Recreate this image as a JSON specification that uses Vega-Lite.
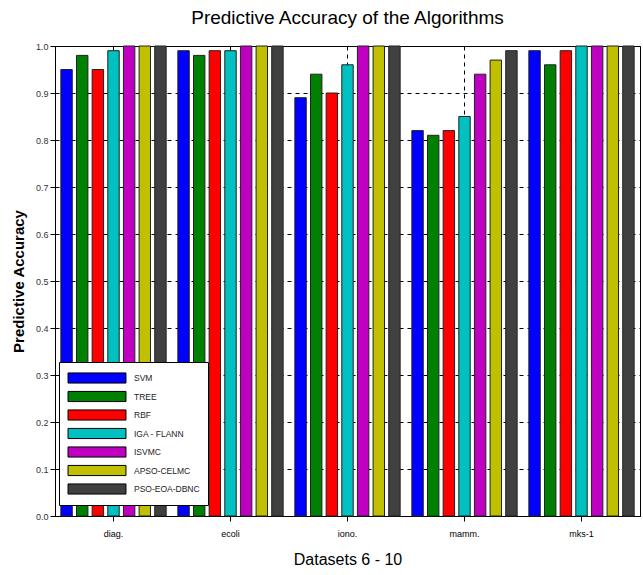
{
  "$schema": "https://vega.github.io/schema/vega-lite/v6.json",
  "width": 585,
  "height": 470,
  "autosize": {"type": "none"},
  "padding": {"left": 55, "top": 46, "right": 3, "bottom": 59},
  "background": "white",
  "title": {
    "text": "Predictive Accuracy of the Algorithms",
    "font": "Liberation Sans",
    "fontSize": 19,
    "fontWeight": "normal",
    "color": "black",
    "offset": 14,
    "anchor": "middle"
  },
  "data": {
    "values": [
      {"dataset": "diag.", "algorithm": "SVM", "accuracy": 0.95},
      {"dataset": "diag.", "algorithm": "TREE", "accuracy": 0.98},
      {"dataset": "diag.", "algorithm": "RBF", "accuracy": 0.95},
      {"dataset": "diag.", "algorithm": "IGA - FLANN", "accuracy": 0.99},
      {"dataset": "diag.", "algorithm": "ISVMC", "accuracy": 1.0},
      {"dataset": "diag.", "algorithm": "APSO-CELMC", "accuracy": 1.0},
      {"dataset": "diag.", "algorithm": "PSO-EOA-DBNC", "accuracy": 1.0},
      {"dataset": "ecoli", "algorithm": "SVM", "accuracy": 0.99},
      {"dataset": "ecoli", "algorithm": "TREE", "accuracy": 0.98},
      {"dataset": "ecoli", "algorithm": "RBF", "accuracy": 0.99},
      {"dataset": "ecoli", "algorithm": "IGA - FLANN", "accuracy": 0.99},
      {"dataset": "ecoli", "algorithm": "ISVMC", "accuracy": 1.0},
      {"dataset": "ecoli", "algorithm": "APSO-CELMC", "accuracy": 1.0},
      {"dataset": "ecoli", "algorithm": "PSO-EOA-DBNC", "accuracy": 1.0},
      {"dataset": "iono.", "algorithm": "SVM", "accuracy": 0.89},
      {"dataset": "iono.", "algorithm": "TREE", "accuracy": 0.94},
      {"dataset": "iono.", "algorithm": "RBF", "accuracy": 0.90},
      {"dataset": "iono.", "algorithm": "IGA - FLANN", "accuracy": 0.96},
      {"dataset": "iono.", "algorithm": "ISVMC", "accuracy": 1.0},
      {"dataset": "iono.", "algorithm": "APSO-CELMC", "accuracy": 1.0},
      {"dataset": "iono.", "algorithm": "PSO-EOA-DBNC", "accuracy": 1.0},
      {"dataset": "mamm.", "algorithm": "SVM", "accuracy": 0.82},
      {"dataset": "mamm.", "algorithm": "TREE", "accuracy": 0.81},
      {"dataset": "mamm.", "algorithm": "RBF", "accuracy": 0.82},
      {"dataset": "mamm.", "algorithm": "IGA - FLANN", "accuracy": 0.85},
      {"dataset": "mamm.", "algorithm": "ISVMC", "accuracy": 0.94},
      {"dataset": "mamm.", "algorithm": "APSO-CELMC", "accuracy": 0.97},
      {"dataset": "mamm.", "algorithm": "PSO-EOA-DBNC", "accuracy": 0.99},
      {"dataset": "mks-1", "algorithm": "SVM", "accuracy": 0.99},
      {"dataset": "mks-1", "algorithm": "TREE", "accuracy": 0.96},
      {"dataset": "mks-1", "algorithm": "RBF", "accuracy": 0.99},
      {"dataset": "mks-1", "algorithm": "IGA - FLANN", "accuracy": 1.0},
      {"dataset": "mks-1", "algorithm": "ISVMC", "accuracy": 1.0},
      {"dataset": "mks-1", "algorithm": "APSO-CELMC", "accuracy": 1.0},
      {"dataset": "mks-1", "algorithm": "PSO-EOA-DBNC", "accuracy": 1.0}
    ]
  },
  "mark": {"type": "bar", "stroke": "#222222", "strokeWidth": 1},
  "encoding": {
    "x": {
      "field": "dataset",
      "type": "nominal",
      "sort": null,
      "scale": {"paddingInner": 0.1, "paddingOuter": 0.05},
      "axis": {
        "title": "Datasets 6 - 10",
        "titleFont": "Liberation Sans",
        "titleFontSize": 16,
        "titleFontWeight": "normal",
        "titleColor": "black",
        "titlePadding": 13,
        "labelFont": "Liberation Sans",
        "labelFontSize": 9,
        "labelColor": "black",
        "labelPadding": 8,
        "labelAngle": 0,
        "tickSize": 5,
        "tickColor": "black",
        "domainColor": "black",
        "grid": true,
        "gridColor": "black",
        "gridDash": [4, 4],
        "gridWidth": 1,
        "bandPosition": 0.5
      }
    },
    "xOffset": {
      "field": "algorithm",
      "type": "nominal",
      "sort": ["SVM", "TREE", "RBF", "IGA - FLANN", "ISVMC", "APSO-CELMC", "PSO-EOA-DBNC"],
      "scale": {"paddingInner": 0.27, "paddingOuter": 0.0}
    },
    "y": {
      "field": "accuracy",
      "type": "quantitative",
      "scale": {"domain": [0, 1], "nice": false},
      "axis": {
        "title": "Predictive Accuracy",
        "titleFont": "Liberation Sans",
        "titleFontSize": 15,
        "titleFontWeight": "bold",
        "titleColor": "black",
        "titlePadding": 9,
        "values": [0, 0.1, 0.2, 0.3, 0.4, 0.5, 0.6, 0.7, 0.8, 0.9, 1],
        "labelFont": "Liberation Sans",
        "labelFontSize": 9,
        "labelColor": "#333333",
        "tickSize": 5,
        "tickColor": "black",
        "domainColor": "black",
        "grid": true,
        "gridColor": "black",
        "gridDash": [4, 4],
        "gridWidth": 1
      }
    },
    "color": {
      "field": "algorithm",
      "type": "nominal",
      "sort": ["SVM", "TREE", "RBF", "IGA - FLANN", "ISVMC", "APSO-CELMC", "PSO-EOA-DBNC"],
      "scale": {
        "domain": ["SVM", "TREE", "RBF", "IGA - FLANN", "ISVMC", "APSO-CELMC", "PSO-EOA-DBNC"],
        "range": ["#0000ff", "#008000", "#ff0000", "#00c0c0", "#c000c0", "#c0c000", "#404040"]
      },
      "legend": {
        "title": null,
        "orient": "none",
        "legendX": 4,
        "legendY": 316,
        "fillColor": "white",
        "strokeColor": "black",
        "padding": 8,
        "symbolType": "M-4,-0.7H4V0.7H-4Z",
        "symbolSize": 210,
        "symbolOffset": 22,
        "symbolStrokeColor": "black",
        "symbolStrokeWidth": 1,
        "symbolOpacity": 1,
        "labelOffset": 29,
        "labelFont": "Liberation Sans",
        "labelFontSize": 8.5,
        "labelColor": "#222222",
        "rowPadding": 2.5,
        "labelLimit": 200
      }
    }
  },
  "config": {
    "view": {"stroke": "black", "strokeWidth": 1},
    "axis": {"gridOpacity": 1}
  }
}
